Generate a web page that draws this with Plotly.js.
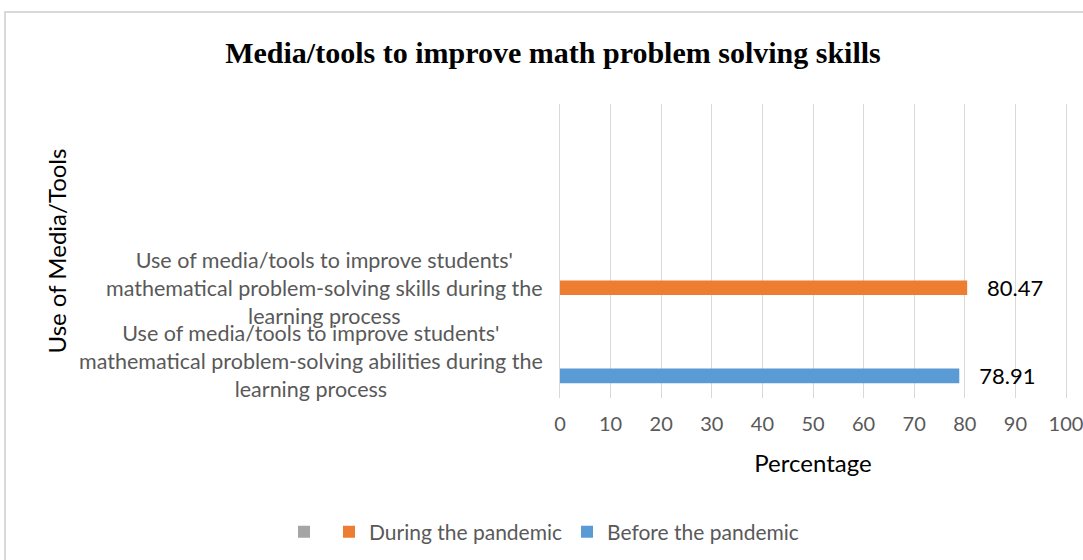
<!DOCTYPE html>
<html><head><meta charset="utf-8">
<script src="https://cdn.plot.ly/plotly-3.0.1.min.js"></script>
<style>
html,body{margin:0;padding:0;background:#fff;}
#wrap{position:relative;width:1083px;height:560px;overflow:hidden;}
#chart{position:absolute;left:0;top:0;width:1083px;height:560px;}
#frame{position:absolute;left:4px;top:11px;width:1200px;height:700px;border:2px solid #d9d9d9;pointer-events:none;}
</style></head><body>
<div id="wrap"><div id="chart"></div><div id="frame"></div></div>
<script>
// categories, bottom to top
const categories = [
  "Use of media/tools to improve students' mathematical problem-solving abilities during the learning process",
  "Use of media/tools to improve students' mathematical problem-solving skills during the learning process",
  " ",
  "  "
];
const categoryLabels = [
  "Use of media/tools to improve students'<br>mathematical problem-solving abilities during the<br>learning process",
  "Use of media/tools to improve students'<br>mathematical problem-solving skills during the<br>learning process",
  "",
  ""
];
const seriesNames = ["Before the pandemic", "During the pandemic", ""];
const seriesColors = ["#5b9bd5", "#ed7d31", "#a5a5a5"];
const beforeValues = [78.91, null, null, null];
const duringValues = [null, 80.47, null, null];
const blankValues = [null, null, null, null];
const xTickValues = [0, 10, 20, 30, 40, 50, 60, 70, 80, 90, 100];

const font = "Lato, 'Open Sans', sans-serif";
const seriesValues = [beforeValues, duringValues, blankValues];

const traces = seriesValues.map((vals, i) => ({
  type: 'bar',
  orientation: 'h',
  name: seriesNames[i],
  y: categories,
  x: vals,
  marker: {color: seriesColors[i]},
  text: vals.map(v => v == null ? '' : '\u00a0\u00a0\u00a0' + v.toFixed(2)),
  textposition: 'outside',
  constraintext: 'none',
  textfont: {family: font, size: 22, color: '#000000'},
  cliponaxis: false,
  hoverinfo: 'x+name'
}));

const annotations = categories.map((c, i) => ({
  xref: 'paper', yref: 'y', x: 0, y: c, xshift: -15,
  xanchor: 'right', yanchor: 'middle', align: 'center',
  text: categoryLabels[i], showarrow: false,
  font: {family: font, size: 21.5, color: '#595959'}
})).filter(a => a.text !== '');

const layout = {
  width: 1083, height: 560,
  margin: {l: 560, r: 17, t: 104, b: 162, autoexpand: false},
  paper_bgcolor: 'rgba(0,0,0,0)', plot_bgcolor: 'rgba(0,0,0,0)',
  title: {
    text: '<b>Media/tools to improve math problem solving skills</b>',
    font: {family: "'Liberation Serif', 'Times New Roman', serif", size: 30, color: '#000'},
    x: 553/1083, xref: 'container', xanchor: 'center',
    y: 1 - 52/560, yref: 'container', yanchor: 'middle'
  },
  barmode: 'group', bargap: 0.4, bargroupgap: 0,
  xaxis: {
    range: [0, 100], tickvals: xTickValues, showgrid: true, gridcolor: '#d9d9d9', gridwidth: 1,
    zeroline: false, showline: false, ticks: '', ticklabelstandoff: 12, ticklabeloverflow: 'allow',
    tickfont: {family: font, size: 20, color: '#595959'},
    title: {text: 'Percentage', font: {family: font, size: 24, color: '#000'}, standoff: 21},
    fixedrange: true
  },
  yaxis: {
    type: 'category', categoryorder: 'array', categoryarray: categories,
    range: [-0.5, 3.5], showticklabels: false, showgrid: false, zeroline: false,
    showline: true, linecolor: '#d9d9d9', linewidth: 1, mirror: true, ticks: '',
    title: {text: 'Use of Media/Tools', font: {family: font, size: 24, color: '#000'}, standoff: 485},
    fixedrange: true
  },
  showlegend: true,
  legend: {
    orientation: 'h', traceorder: 'reversed',
    x: (544 - 560) / 506, xanchor: 'center', xref: 'paper',
    y: (398 - 532) / 294, yanchor: 'middle',
    font: {family: font, size: 21, color: '#595959'}
  },
  annotations: annotations
};

Plotly.newPlot('chart', traces, layout, {displayModeBar: false, staticPlot: true});
</script>
</body></html>
